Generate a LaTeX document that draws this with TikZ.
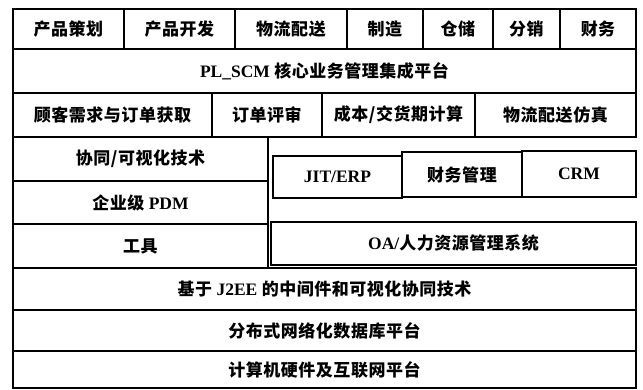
\documentclass[tikz,border=0pt]{standalone}
\usepackage{fontspec}
\setmainfont{Liberation Serif}
\newfontfamily\cjk{Noto Sans CJK SC}[LetterSpace=3]
\newcommand\lat[1]{{\rmfamily\bfseries\fontsize{17.5}{20}\selectfont #1}}
\newcommand\cellbox[6]{%
  \node[cellsty, minimum width={(#4-#2)*1pt}, minimum height={(#5-#3)*1pt}]
    (#1) at ({(#2+#4)/2},{(#3+#5)/2}) {#6};}
\tikzset{
  cellsty/.style={draw=black, line width=1.3pt, inner sep=0pt, outer sep=0pt,
    font=\cjk\bfseries\fontsize{17}{20}\selectfont, text=black}
}
\begin{document}
\begin{tikzpicture}[x=1pt,y=-1pt]
\useasboundingbox (0,0) rectangle (643,390);
% row 1
\cellbox{a1}{13}{9}{124}{49}{产品策划}
\cellbox{a2}{124}{9}{235}{49}{产品开发}
\cellbox{a3}{235}{9}{347}{49}{物流配送}
\cellbox{a4}{347}{9}{423}{49}{制造}
\cellbox{a5}{423}{9}{493}{49}{仓储}
\cellbox{a6}{493}{9}{560}{49}{分销}
\cellbox{a7}{560}{9}{636}{49}{财务}
% row 2
\cellbox{b1}{13}{49}{636}{93}{\lat{PL\_SCM} 核心业务管理集成平台}
% row 3
\cellbox{c1}{13}{93}{212}{137}{顾客需求与订单获取}
\cellbox{c2}{212}{93}{322}{137}{订单评审}
\cellbox{c3}{322}{93}{475}{137}{成本/交货期计算}
\cellbox{c4}{475}{93}{636}{137}{物流配送仿真}
% left block
\cellbox{d1}{13}{137}{268}{181}{协同/可视化技术}
\cellbox{d2}{13}{181}{268}{224}{企业级 \lat{PDM}}
\cellbox{d3}{13}{224}{268}{268}{工具}
% right upper boxes
\cellbox{e1}{273}{156}{402}{198}{\lat{JIT/ERP}}
\cellbox{e2}{402}{152}{522}{197}{财务管理}
\cellbox{e3}{522}{151}{636}{197}{\lat{CRM}}
\cellbox{f1}{271}{222}{636}{265}{\lat{OA/}人力资源管理系统}
% bottom rows
\cellbox{g1}{13}{268}{636}{310}{基于 \lat{J2EE} 的中间件和可视化协同技术}
\cellbox{g2}{13}{310}{636}{351}{分布式网络化数据库平台}
\cellbox{g3}{13}{351}{636}{388}{计算机硬件及互联网平台}
\end{tikzpicture}
\end{document}
